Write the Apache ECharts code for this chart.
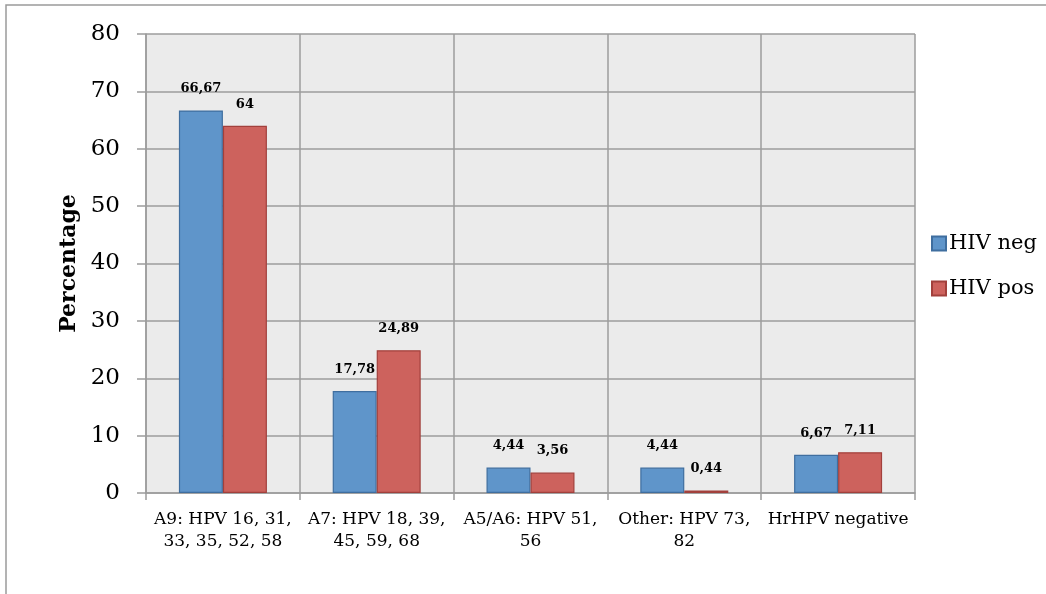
<!DOCTYPE html>
<html><head><meta charset="utf-8">
<script src="https://cdn.jsdelivr.net/npm/echarts@6/dist/echarts.min.js"></script>
<style>html,body{margin:0;padding:0;background:#fff}#c{width:1046px;height:594px}</style>
</head><body><div id="c"></div>
<script>
const categories = ['A9: HPV 16, 31, 33, 35, 52, 58', 'A7: HPV 18, 39, 45, 59, 68', 'A5/A6: HPV 51, 56', 'Other: HPV 73, 82', 'HrHPV negative'];
const categoryLabels = ['A9: HPV 16, 31,\n33, 35, 52, 58', 'A7: HPV 18, 39,\n45, 59, 68', 'A5/A6: HPV 51,\n56', 'Other: HPV 73,\n82', 'HrHPV negative'];
const hivNeg = [66.67, 17.78, 4.44, 4.44, 6.67];
const hivPos = [64, 24.89, 3.56, 0.44, 7.11];
const seriesNames = ['HIV neg', 'HIV pos'];

const font = 'DejaVu Serif';
const chart = echarts.init(document.getElementById('c'));
const lbl = {
  show: true, position: 'top', distance: 15,
  fontFamily: font, fontWeight: 'bold', fontSize: 13, color: '#000',
  formatter: p => String(p.value).replace('.', ',')
};
chart.setOption({
  animation: false,
  backgroundColor: '#fff',
  graphic: [{type: 'rect', shape: {x: 6, y: 5, width: 1100, height: 700}, style: {fill: 'none', stroke: '#9a9a9a', lineWidth: 1.5}, silent: true}],
  grid: {left: 146, right: 131, top: 34, bottom: 101, show: true, backgroundColor: '#ebebeb', borderWidth: 0},
  legend: {
    orient: 'vertical', left: 926, top: 228, itemWidth: 14, itemHeight: 14, itemGap: 24,
    icon: 'rect',
    textStyle: {fontFamily: font, fontSize: 21, color: '#000', padding: [0, 0, 0, -2]},
    data: seriesNames
  },
  xAxis: {
    type: 'category', data: categories,
    axisLine: {show: true, lineStyle: {color: '#9c9c9c', width: 1.5}},
    axisTick: {show: true, length: 7, lineStyle: {color: '#9c9c9c', width: 1.5}},
    splitLine: {show: true, lineStyle: {color: '#9c9c9c', width: 1.5}},
    axisLabel: {fontFamily: font, fontSize: 17, color: '#000', margin: 16, lineHeight: 22, interval: 0,
      formatter: (v, i) => categoryLabels[i]}
  },
  yAxis: {
    type: 'value', min: 0, max: 80, interval: 10,
    name: 'Percentage', nameLocation: 'middle', nameGap: 66,
    nameTextStyle: {fontFamily: font, fontWeight: 'bold', fontSize: 22, color: '#000'},
    axisLine: {show: true, lineStyle: {color: '#9c9c9c', width: 1.5}},
    axisTick: {show: true, length: 9, lineStyle: {color: '#9c9c9c', width: 1.5}},
    splitLine: {show: true, lineStyle: {color: '#9c9c9c', width: 1.5}},
    axisLabel: {fontFamily: font, fontSize: 23, color: '#000', margin: 26}
  },
  series: [
    {name: seriesNames[0], type: 'bar', data: hivNeg, barWidth: 44, barGap: '0%',
      itemStyle: {color: '#5f95ca', borderColor: '#3f6e9f', borderWidth: 1.2}, label: lbl},
    {name: seriesNames[1], type: 'bar', data: hivPos, barWidth: 44, barGap: '0%',
      itemStyle: {color: '#cd625d', borderColor: '#a2403c', borderWidth: 1.2}, label: lbl}
  ]
});
</script></body></html>
